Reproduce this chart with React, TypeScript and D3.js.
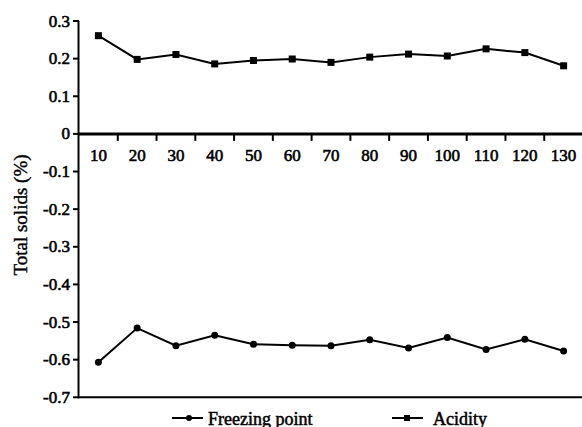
import React from "react";
import * as d3 from "d3";

const categories = ["10", "20", "30", "40", "50", "60", "70", "80", "90", "100", "110", "120", "130"];
const freezingPoint = [-0.607, -0.516, -0.563, -0.535, -0.559, -0.562, -0.563, -0.547, -0.569, -0.541, -0.573, -0.546, -0.577];
const acidity = [0.261, 0.198, 0.211, 0.186, 0.195, 0.199, 0.19, 0.204, 0.212, 0.207, 0.226, 0.216, 0.181];
const yTicks = [0.3, 0.2, 0.1, 0, -0.1, -0.2, -0.3, -0.4, -0.5, -0.6, -0.7];
const seriesNames = ["Freezing point", "Acidity"];

const W = 582;
const H = 427;
const FONT = "Liberation Serif, DejaVu Serif, serif";
const tstyle = { fontFamily: FONT };

export default function App() {
  const x = d3.scaleBand<string>().domain(categories).range([79, 583]);
  const y = d3.scaleLinear().domain([-0.7, 0.3]).range([397.3, 21]);
  const cx = (c: string) => (x(c) as number) + x.bandwidth() / 2;
  const line = d3
    .line<[string, number]>()
    .x((d) => cx(d[0]))
    .y((d) => y(d[1]));
  const fpData: [string, number][] = categories.map((c, i) => [c, freezingPoint[i]]);
  const acData: [string, number][] = categories.map((c, i) => [c, acidity[i]]);
  const fmt = (v: number) => (v === 0 ? "0" : v.toFixed(1));

  return (
    <svg
      width={W}
      height={H}
      style={{ position: "absolute", left: 0, top: 0, background: "#fff" }}
    >
      <rect x={0} y={0} width={W} height={H} fill="#fff" />
      {/* Y axis */}
      <line x1={78.5} x2={78.5} y1={y(0.3)} y2={y(-0.7) + 1} stroke="#000" strokeWidth={2} />
      {yTicks.map((t) => (
        <g key={t}>
          <line x1={73} x2={79} y1={y(t)} y2={y(t)} stroke="#000" strokeWidth={2} />
          <text x={70} y={y(t) + 5.5} textAnchor="end" fontSize={17} fill="#000" stroke="#000" strokeWidth={0.6} style={tstyle}>
            {fmt(t)}
          </text>
        </g>
      ))}
      {/* bottom axis line */}
      <line x1={78} x2={W} y1={y(-0.7)} y2={y(-0.7)} stroke="#000" strokeWidth={2} />
      {/* zero axis */}
      <line x1={78} x2={W} y1={y(0)} y2={y(0)} stroke="#000" strokeWidth={3} />
      {categories.slice(1).map((c) => (
        <line key={c} x1={x(c) as number} x2={x(c) as number} y1={y(0)} y2={y(0) + 7} stroke="#000" strokeWidth={2} />
      ))}
      {categories.map((c) => (
        <text key={c} x={cx(c)} y={161} textAnchor="middle" fontSize={17} fill="#000" stroke="#000" strokeWidth={0.6} style={tstyle}>
          {c}
        </text>
      ))}
      {/* Y label */}
      <text
        transform={`translate(27,215) rotate(-90)`}
        textAnchor="middle"
        fontSize={19}
        fill="#000"
        stroke="#000"
        strokeWidth={0.4}
        style={tstyle}
      >
        Total solids (%)
      </text>
      {/* series */}
      <path d={line(acData) || ""} fill="none" stroke="#000" strokeWidth={2} />
      {acData.map((d) => (
        <rect key={d[0]} x={cx(d[0]) - 3.5} y={y(d[1]) - 3.5} width={7} height={7} fill="#000" />
      ))}
      <path d={line(fpData) || ""} fill="none" stroke="#000" strokeWidth={2} />
      {fpData.map((d) => (
        <circle key={d[0]} cx={cx(d[0])} cy={y(d[1])} r={3.5} fill="#000" />
      ))}
      {/* legend */}
      <g>
        <line x1={172} x2={203} y1={418} y2={418} stroke="#000" strokeWidth={2} />
        <circle cx={189} cy={418} r={3} fill="#000" />
        <text x={208} y={424.5} fontSize={18} fill="#000" stroke="#000" strokeWidth={0.5} style={tstyle}>
          {seriesNames[0]}
        </text>
        <line x1={392} x2={423} y1={418} y2={418} stroke="#000" strokeWidth={2} />
        <rect x={404} y={415} width={6} height={6} fill="#000" />
        <text x={433} y={424.5} fontSize={18} fill="#000" stroke="#000" strokeWidth={0.5} style={tstyle}>
          {seriesNames[1]}
        </text>
      </g>
    </svg>
  );
}
